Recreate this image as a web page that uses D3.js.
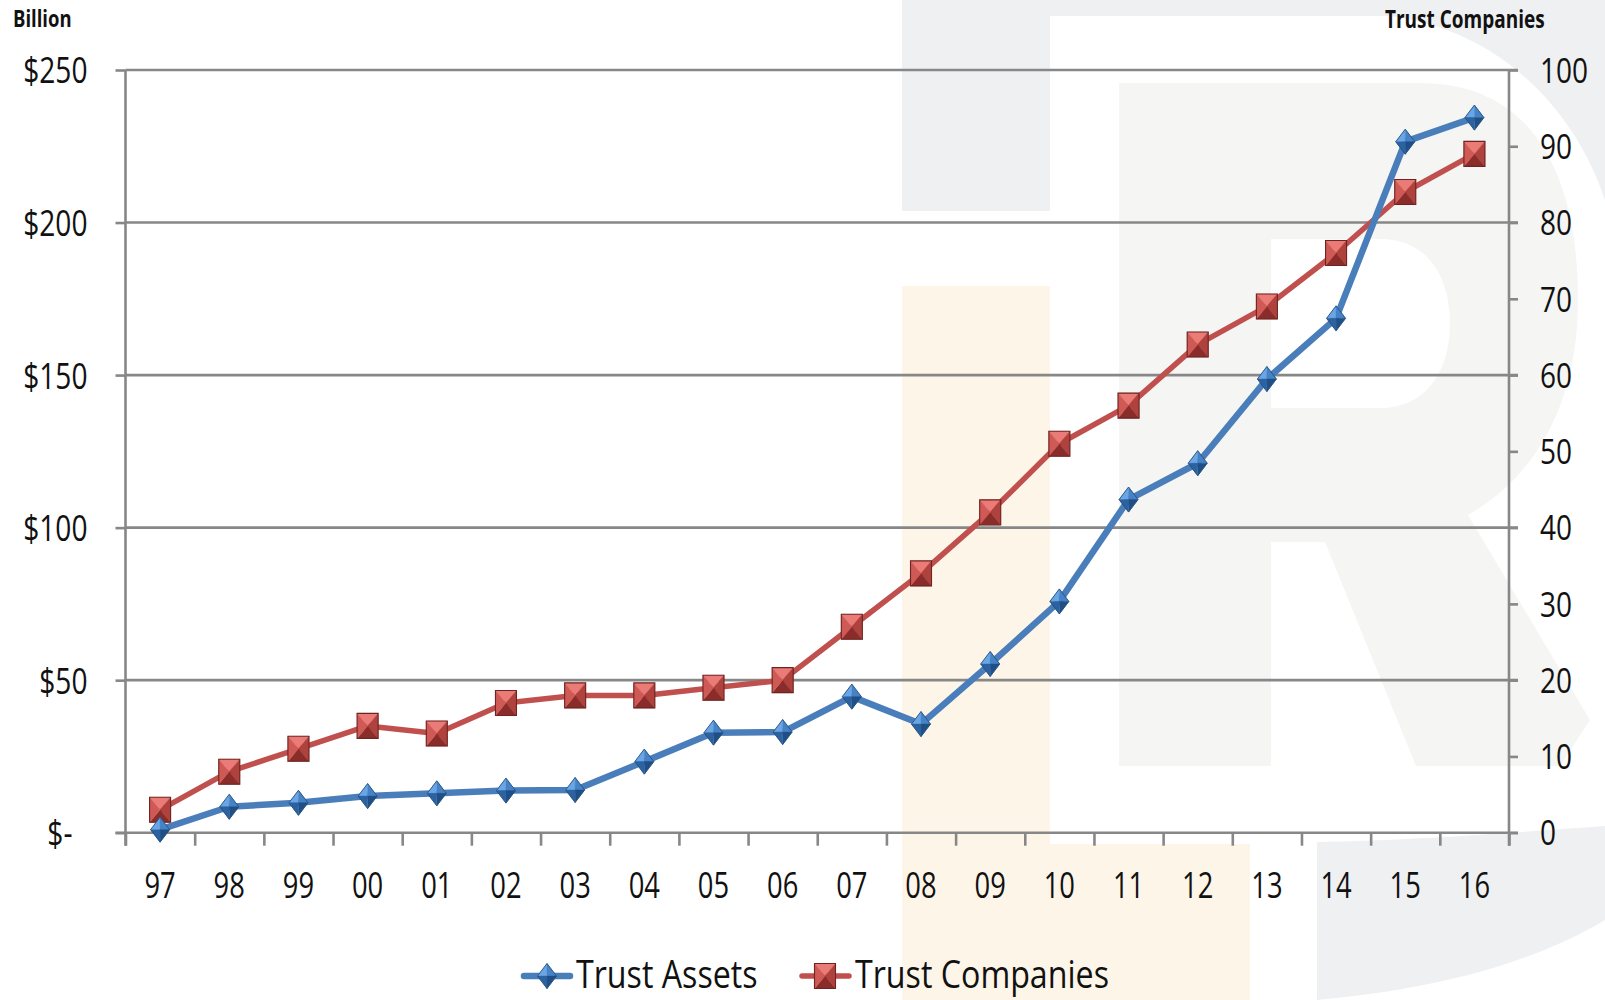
<!DOCTYPE html>
<html>
<head>
<meta charset="utf-8">
<script src="https://cdn.jsdelivr.net/npm/d3@7"></script>
<style>
  html, body { margin: 0; padding: 0; background: #fff; }
  svg { display: block; }
  text { font-family: "Open Sans", "Noto Sans", sans-serif; fill: #111; }
</style>
</head>
<body>
<svg id="chart" width="1605" height="1000"></svg>
<script>
// Fiscal years (two-digit labels)
const years = ["97","98","99","00","01","02","03","04","05","06",
               "07","08","09","10","11","12","13","14","15","16"];
// Trust assets, $ billion (left axis)
const trustAssets = [1, 8.5, 9.8, 12, 12.9, 13.8, 14, 23.3, 32.8, 33,
                     44.6, 35.6, 55.3, 75.8, 109.2, 121.1, 148.7, 168.6, 226.5, 234.4];
// Number of trust companies (right axis)
const trustCompanies = [3, 8, 11, 14, 13, 17, 18, 18, 19, 20,
                        27, 34, 42, 51, 56, 64, 69, 76, 84, 89];
// Axis tick values
const leftTicks = [0, 50, 100, 150, 200, 250];
const rightTicks = [0, 10, 20, 30, 40, 50, 60, 70, 80, 90, 100];

const svg = d3.select("#chart");

const plot = { left: 125.5, right: 1509, top: 70, bottom: 832.7 };
const gridColor = "#878787";

// ---- faint logo watermark behind the chart ----
const wm = svg.append("g").attr("class", "watermark");
wm.append("rect").attr("x", 902).attr("y", 0).attr("width", 148).attr("height", 211).attr("fill", "#eff0f2");
wm.append("rect").attr("x", 902).attr("y", 286).attr("width", 148).attr("height", 714).attr("fill", "#fef5e9");
wm.append("rect").attr("x", 1050).attr("y", 844).attr("width", 200).attr("height", 156).attr("fill", "#fef5e9");
wm.append("path").attr("fill", "#eff0f2")
  .attr("d", "M1050,0 H1605 V200 C1575,110 1500,30 1390,16 H1050 Z");
wm.append("path").attr("fill", "#eff0f2")
  .attr("d", "M1317,842 C1420,840 1520,832 1605,826 V920 C1530,965 1430,990 1317,1000 Z");
wm.append("path").attr("fill", "#f5f5f4").attr("fill-rule", "evenodd")
  .attr("d", "M1119,83 H1420 C1530,83 1578,170 1578,300 C1578,410 1530,480 1468,515 L1590,720 L1560,766 H1416 L1325,542 H1271 V766 H1119 Z " +
             "M1271,239 H1380 C1430,239 1450,280 1450,323 C1450,366 1430,408 1380,408 H1271 Z");

// ---- scales ----
const x = d3.scaleBand().domain(years).range([plot.left, plot.right]).padding(0);
const xEdge = d3.scaleLinear().domain([0, years.length]).range([plot.left, plot.right]);
const yL = d3.scaleLinear().domain([0, 250]).range([plot.bottom, plot.top]);
const yR = d3.scaleLinear().domain([0, 100]).range([plot.bottom, plot.top]);
const cx = d => x(d) + x.bandwidth() / 2;

// place axis text with a horizontally condensed face
function condense(sel, size, sx, dx, dy, anchor) {
  sel.attr("x", null).attr("y", null)
     .attr("dy", "0.35em")
     .attr("font-size", size)
     .attr("text-anchor", anchor)
     .attr("fill", "#111")
     .attr("transform", `translate(${dx},${dy}) scale(${sx},1)`);
}

// ---- horizontal gridlines ----
svg.append("g").selectAll("line").data(leftTicks.filter(d => d > 0)).join("line")
  .attr("x1", plot.left).attr("x2", plot.right + 9)
  .attr("y1", d => yL(d)).attr("y2", d => yL(d))
  .attr("stroke", gridColor).attr("stroke-width", 2.6);

// ---- left axis ----
const gLeft = svg.append("g").attr("transform", `translate(${plot.left},0)`)
  .call(d3.axisLeft(yL).tickValues(leftTicks).tickSize(10)
        .tickFormat(d => d === 0 ? "$-" : "$" + d));
gLeft.select(".domain").attr("stroke", gridColor).attr("stroke-width", 2.6)
  .attr("d", `M0,${plot.top}V${plot.bottom + 13}`);
gLeft.selectAll(".tick line").attr("stroke", gridColor).attr("stroke-width", 2.6);
gLeft.selectAll(".tick text").each(function (d) {
  condense(d3.select(this), 37, 0.76, d === 0 ? -53 : -38, 0, "end");
});

// ---- right axis ----
const gRight = svg.append("g").attr("transform", `translate(${plot.right},0)`)
  .call(d3.axisRight(yR).tickValues(rightTicks).tickSize(9));
gRight.select(".domain").attr("stroke", gridColor).attr("stroke-width", 2.6)
  .attr("d", `M0,${plot.top}V${plot.bottom + 13}`);
gRight.selectAll(".tick line").attr("stroke", gridColor).attr("stroke-width", 2.6);
gRight.selectAll(".tick text").each(function () {
  condense(d3.select(this), 35, 0.8, 31, 0, "start");
});

// ---- bottom axis: edge ticks between categories, labels centred ----
const gEdges = svg.append("g").attr("transform", `translate(0,${plot.bottom})`)
  .call(d3.axisBottom(xEdge).tickValues(d3.range(years.length + 1)).tickSize(13).tickFormat(""));
gEdges.select(".domain").attr("stroke", gridColor).attr("stroke-width", 2.6)
  .attr("d", `M${plot.left - 10},0H${plot.right + 9}`);
gEdges.selectAll(".tick line").attr("stroke", gridColor).attr("stroke-width", 2.6);

const gBottom = svg.append("g").attr("transform", `translate(0,${plot.bottom})`)
  .call(d3.axisBottom(x).tickSize(0));
gBottom.select(".domain").remove();
gBottom.selectAll(".tick text").each(function () {
  condense(d3.select(this), 36, 0.76, 0, 52.5, "middle");
});

// ---- axis titles ----
svg.append("text").attr("transform", "translate(13,27) scale(0.77,1)")
  .attr("font-size", 24).attr("font-weight", 700).text("Billion");
svg.append("text").attr("transform", "translate(1385,28) scale(0.76,1)")
  .attr("font-size", 25).attr("font-weight", 700).text("Trust Companies");

// ---- marker shapes with bevelled facets ----
function diamond(g, px, py) {
  const w = 9.5, h = 12.5;
  const T = [px, py - h], R = [px + w, py], B = [px, py + h], L = [px - w, py], C = [px, py];
  const facets = [[L, T, "#6aa6e6"], [T, R, "#4683c6"], [R, B, "#204f86"], [B, L, "#2c62a0"]];
  facets.forEach(([a, b, col]) => {
    g.append("path").attr("d", `M${a}L${b}L${C}Z`).attr("fill", col)
      .attr("stroke", col).attr("stroke-width", 0.4);
  });
  g.append("path").attr("d", `M${T}L${R}L${B}L${L}Z`).attr("fill", "none")
    .attr("stroke", "#244f80").attr("stroke-width", 0.9);
}
function square(g, px, py) {
  const w = 10.5, h = 12.5;
  const TL = [px - w, py - h], TR = [px + w, py - h], BR = [px + w, py + h], BL = [px - w, py + h], C = [px, py];
  const facets = [[TL, TR, "#ea7b76"], [TR, BR, "#b0423e"], [BR, BL, "#8a2d2a"], [BL, TL, "#cf5954"]];
  facets.forEach(([a, b, col]) => {
    g.append("path").attr("d", `M${a}L${b}L${C}Z`).attr("fill", col)
      .attr("stroke", col).attr("stroke-width", 0.4);
  });
  g.append("path").attr("d", `M${TL}L${TR}L${BR}L${BL}Z`).attr("fill", "none")
    .attr("stroke", "#6e2422").attr("stroke-width", 1.1);
}

// ---- series ----
const assetsData = years.map((y, i) => ({ year: y, v: trustAssets[i] }));
const companyData = years.map((y, i) => ({ year: y, v: trustCompanies[i] }));

const lineCo = d3.line().x(d => cx(d.year)).y(d => yR(d.v));
const lineAs = d3.line().x(d => cx(d.year)).y(d => yL(d.v));

const gCo = svg.append("g");
gCo.append("path").datum(companyData).attr("d", lineCo)
  .attr("fill", "none").attr("stroke", "#c0504d").attr("stroke-width", 5.5).attr("stroke-linejoin", "round");

const gAs = svg.append("g");
gAs.append("path").datum(assetsData).attr("d", lineAs)
  .attr("fill", "none").attr("stroke", "#4a7ebb").attr("stroke-width", 6.5).attr("stroke-linejoin", "round");

companyData.forEach(d => square(gCo.append("g"), cx(d.year), yR(d.v)));
assetsData.forEach(d => diamond(gAs.append("g"), cx(d.year), yL(d.v)));

// ---- legend ----
const lg = svg.append("g");
lg.append("line").attr("x1", 524).attr("x2", 570).attr("y1", 976).attr("y2", 976)
  .attr("stroke", "#4a7ebb").attr("stroke-width", 6.5).attr("stroke-linecap", "round");
diamond(lg.append("g"), 547, 976);
lg.append("text").attr("transform", "translate(576,988) scale(0.825,1)")
  .attr("font-size", 39).text("Trust Assets");

lg.append("line").attr("x1", 802).attr("x2", 849).attr("y1", 976).attr("y2", 976)
  .attr("stroke", "#c0504d").attr("stroke-width", 5.5).attr("stroke-linecap", "round");
square(lg.append("g"), 825, 976);
lg.append("text").attr("transform", "translate(855,988) scale(0.825,1)")
  .attr("font-size", 39).text("Trust Companies");
</script>
</body>
</html>
